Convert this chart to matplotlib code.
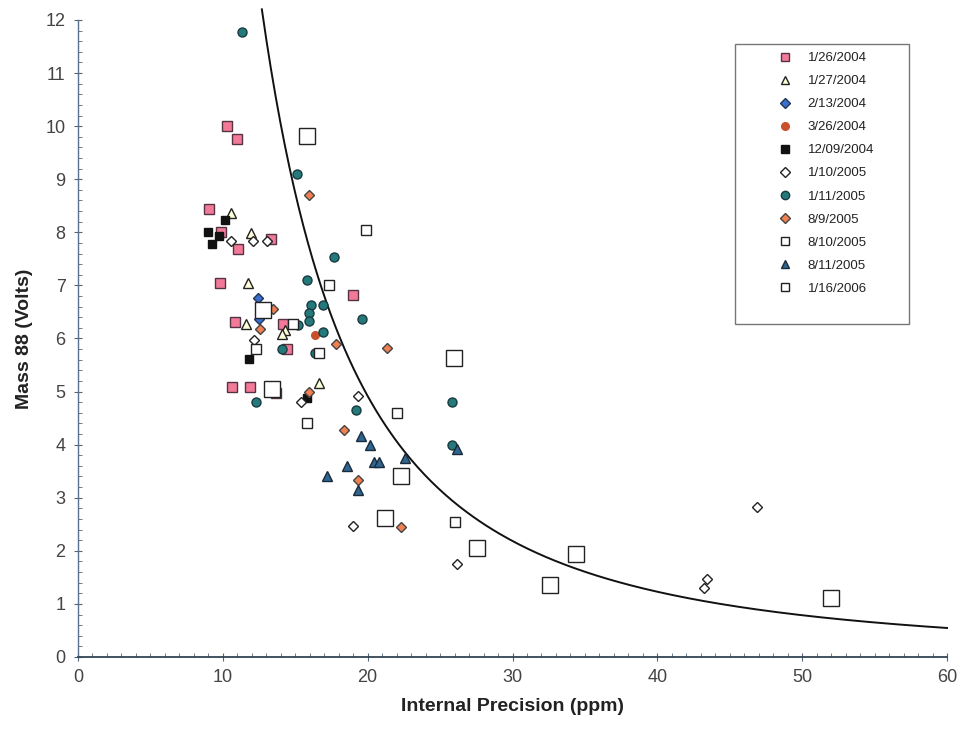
import numpy as np
import matplotlib
matplotlib.use("Agg")
import matplotlib.pyplot as plt
from matplotlib.patches import Rectangle
from matplotlib.ticker import MultipleLocator

plt.rcParams['font.family'] = ['Liberation Sans', 'DejaVu Sans']

# data (x = internal precision ppm, y = mass 88 volts)
x_0126_2004 = [10.27, 10.96, 9.07, 9.85, 11.07, 13.3, 9.8, 10.84, 14.15, 14.45, 18.97, 10.6, 11.88, 13.67]
y_0126_2004 = [10.0, 9.76, 8.43, 8.01, 7.68, 7.88, 7.05, 6.31, 6.28, 5.8, 6.82, 5.08, 5.08, 4.97]

x_0127_2004 = [10.54, 11.95, 11.71, 11.6, 14.3, 14.07, 16.67]
y_0127_2004 = [8.36, 7.98, 7.05, 6.27, 6.16, 6.08, 5.17]

x_0213_2004 = [12.43, 12.52]
y_0213_2004 = [6.76, 6.36]

x_0326_2004 = [16.37]
y_0326_2004 = [6.06]

x_1209_2004 = [10.15, 9.0, 9.76, 9.23, 11.83, 15.79]
y_1209_2004 = [8.23, 8.01, 7.93, 7.78, 5.62, 4.87]

x_0110_2005 = [10.57, 12.1, 13.07, 12.15, 15.38, 19.36, 19.0, 26.2, 43.2, 43.4, 46.9]
y_0110_2005 = [7.84, 7.84, 7.84, 5.97, 4.81, 4.92, 2.47, 1.75, 1.29, 1.46, 2.83]

x_0111_2005 = [11.3, 15.15, 17.68, 15.84, 16.07, 16.94, 15.98, 15.98, 19.61, 15.2, 16.9,
               14.07, 16.37, 12.29, 19.2, 25.8, 25.8]
y_0111_2005 = [11.78, 9.09, 7.54, 7.11, 6.63, 6.63, 6.48, 6.33, 6.37, 6.25, 6.13,
               5.8, 5.72, 4.81, 4.66, 4.8, 3.99]

x_0809_2005 = [15.98, 13.49, 12.57, 17.8, 21.36, 15.98, 18.37, 19.3, 22.28]
y_0809_2005 = [8.71, 6.56, 6.17, 5.89, 5.82, 5.0, 4.27, 3.33, 2.44]

x_0810_2005 = [19.87, 17.3, 14.87, 12.29, 16.67, 15.84, 22.0, 26.0]
y_0810_2005 = [8.05, 7.0, 6.28, 5.8, 5.72, 4.4, 4.59, 2.55]

x_0811_2005 = [19.52, 20.15, 20.46, 20.81, 22.58, 18.55, 17.22, 19.3, 26.15]
y_0811_2005 = [4.17, 3.99, 3.68, 3.68, 3.74, 3.6, 3.41, 3.14, 3.91]

x_0116_2006 = [15.84, 12.75, 13.37, 25.97, 22.28, 21.2, 27.57, 34.4, 32.6, 52.0]
y_0116_2006 = [9.81, 6.53, 5.04, 5.64, 3.41, 2.61, 2.05, 1.94, 1.36, 1.12]

# curve y = CURVE_A / x^CURVE_B
CURVE_A = 1966.0
CURVE_B = 2.0

series = [
    ("1/26/2004", x_0126_2004, y_0126_2004, dict(marker="s", ms=6.5, mfc="#F27A98", mec="#553344")),
    ("1/27/2004", x_0127_2004, y_0127_2004, dict(marker="^", ms=7, mfc="#FFFFD8", mec="#222222")),
    ("2/13/2004", x_0213_2004, y_0213_2004, dict(marker="D", ms=5, mfc="#3A6FD0", mec="#223355")),
    ("3/26/2004", x_0326_2004, y_0326_2004, dict(marker="o", ms=5.5, mfc="#C8502A", mec="#C8502A")),
    ("12/09/2004", x_1209_2004, y_1209_2004, dict(marker="s", ms=6, mfc="#111111", mec="#111111")),
    ("1/10/2005", x_0110_2005, y_0110_2005, dict(marker="D", ms=5, mfc="white", mec="#222222")),
    ("1/11/2005", x_0111_2005, y_0111_2005, dict(marker="o", ms=6.5, mfc="#24797A", mec="#1A3A40")),
    ("8/9/2005", x_0809_2005, y_0809_2005, dict(marker="D", ms=5, mfc="#F08050", mec="#444444")),
    ("8/10/2005", x_0810_2005, y_0810_2005, dict(marker="s", ms=6.5, mfc="white", mec="#222222")),
    ("8/11/2005", x_0811_2005, y_0811_2005, dict(marker="^", ms=7.5, mfc="#2F6690", mec="#1A2A3A")),
    ("1/16/2006", x_0116_2006, y_0116_2006, dict(marker="s", ms=11.5, mfc="white", mec="#222222")),
]

fig = plt.figure(figsize=(9.63, 7.39), dpi=100)
ax = fig.add_axes([0.081, 0.111, 0.9024, 0.862])

xc = np.linspace((CURVE_A / 12.2) ** (1 / CURVE_B), 60, 300)
ax.plot(xc, CURVE_A / xc ** CURVE_B, color="#111111", lw=1.4, zorder=2, clip_on=False)

handles = []
for label, xs, ys, st in series:
    h, = ax.plot(xs, ys, ls="none", mew=1.0, label=label, zorder=3, **st)
    handles.append(h)

ax.set_xlim(0, 60)
ax.set_ylim(0, 12)
ax.xaxis.set_major_locator(MultipleLocator(10))
ax.xaxis.set_minor_locator(MultipleLocator(1))
ax.yaxis.set_major_locator(MultipleLocator(1))
ax.yaxis.set_minor_locator(MultipleLocator(0.2))
ax.tick_params(which="major", direction="inout", length=6, width=0.8, color="#556677",
               labelsize=13, labelcolor="#444444", pad=6)
ax.tick_params(which="minor", direction="in", length=3, width=0.6, color="#556677")

for side in ("top", "right"):
    ax.spines[side].set_visible(False)
ax.spines["left"].set_color("#5a7090")
ax.spines["bottom"].set_color("#334455")
ax.spines["left"].set_linewidth(1.0)
ax.spines["bottom"].set_linewidth(1.3)

ax.set_xlabel("Internal Precision (ppm)", fontsize=14, fontweight="bold", color="#222222", labelpad=8)
ax.set_ylabel("Mass 88 (Volts)", fontsize=14, fontweight="bold", color="#222222", labelpad=9)

# legend box
ax.add_patch(Rectangle((0.756, 0.523), 0.2, 0.44, transform=ax.transAxes, fill=False,
                       ec="#777777", lw=1.0, zorder=5))
leg_handles = []
for h, (label, xs, ys, st) in zip(handles, series):
    st2 = dict(st)
    st2["ms"] = min(st["ms"], 6)
    lh, = ax.plot([], [], ls="none", mew=1.0, label=label, **st2)
    leg_handles.append(lh)
leg = ax.legend(handles=leg_handles, loc="upper left", bbox_to_anchor=(0.8, 0.958),
                frameon=False, fontsize=9.5, handletextpad=1.2, labelspacing=0.82,
                borderaxespad=0, handlelength=1.0)
for t in leg.get_texts():
    t.set_color("#222222")

fig.savefig("out.png", dpi=100)
